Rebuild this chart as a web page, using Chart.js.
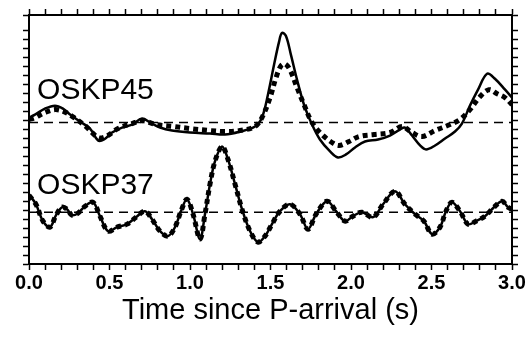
<!DOCTYPE html>
<html>
<head>
<meta charset="utf-8">
<script src="https://cdn.jsdelivr.net/npm/chart.js@4/dist/chart.umd.min.js"></script>
<style>
  html, body { margin: 0; padding: 0; background: #fff; }
  #wrap { width: 528px; height: 338px; }
</style>
</head>
<body>
<div id="wrap"><canvas id="c"></canvas></div>
<script>
// time axis (s) and amplitudes, relative to each trace's baseline
const stations = ['OSKP45', 'OSKP37']
const baselines = [14.2, 5.2]

const t45obs = [0, 0.037, 0.099, 0.161, 0.211, 0.255, 0.317, 0.379, 0.429, 0.466, 0.516, 0.578, 0.640, 0.702, 0.752, 0.814, 0.888, 1.000, 1.124, 1.217, 1.311, 1.404, 1.447, 1.484, 1.522, 1.553, 1.571, 1.596, 1.627, 1.665, 1.708, 1.758, 1.807, 1.870, 1.919, 1.969, 2.025, 2.087, 2.168, 2.242, 2.304, 2.335, 2.379, 2.429, 2.466, 2.522, 2.584, 2.646, 2.689, 2.739, 2.789, 2.845, 2.894, 2.957, 3.000]
const a45obs = [0.5, 0.8, 1.4, 1.7, 1.4, 0.8, 0.1, -0.6, -1.8, -1.7, -1.0, -0.5, -0.2, 0.4, 0, -0.5, -0.8, -1.0, -1.1, -1.2, -0.9, -0.4, 0.5, 2.8, 5.8, 8.1, 9.0, 8.7, 6.8, 4.3, 1.8, -0.2, -1.7, -2.9, -3.5, -3.2, -2.5, -1.9, -1.7, -1.3, -0.7, -0.5, -1.3, -2.3, -2.7, -2.3, -1.6, -0.9, -0.1, 1.7, 3.3, 4.9, 4.4, 3.3, 2.5]

const t45syn = [0, 0.037, 0.099, 0.161, 0.217, 0.280, 0.354, 0.429, 0.478, 0.553, 0.640, 0.702, 0.789, 0.901, 1.000, 1.124, 1.217, 1.311, 1.404, 1.447, 1.497, 1.534, 1.565, 1.590, 1.621, 1.665, 1.708, 1.758, 1.820, 1.882, 1.925, 1.988, 2.050, 2.143, 2.242, 2.317, 2.379, 2.441, 2.522, 2.615, 2.677, 2.739, 2.801, 2.857, 2.907, 2.957, 3.000]
const a45syn = [0.3, 0.5, 1.0, 1.3, 1.1, 0.5, -0.4, -1.5, -1.4, -0.6, -0.1, 0.2, -0.2, -0.4, -0.6, -0.8, -0.9, -0.8, -0.4, 0.5, 2.5, 4.5, 5.7, 5.9, 5.3, 3.5, 1.8, 0, -1.2, -2.0, -2.3, -1.9, -1.4, -1.2, -1.0, -0.4, -1.0, -1.4, -0.8, -0.2, 0.3, 1.3, 2.6, 3.3, 2.9, 2.5, 1.8]

const t37 = [0, 0.043, 0.087, 0.130, 0.168, 0.205, 0.236, 0.267, 0.304, 0.348, 0.398, 0.441, 0.491, 0.547, 0.609, 0.665, 0.720, 0.764, 0.814, 0.863, 0.907, 0.944, 0.981, 1.019, 1.062, 1.093, 1.124, 1.155, 1.199, 1.236, 1.280, 1.323, 1.373, 1.422, 1.466, 1.509, 1.559, 1.621, 1.683, 1.733, 1.783, 1.851, 1.907, 1.963, 2.012, 2.068, 2.137, 2.199, 2.273, 2.335, 2.398, 2.453, 2.503, 2.553, 2.590, 2.627, 2.677, 2.727, 2.776, 2.832, 2.888, 2.938, 2.975, 3.000]
const a37obs = [1.8, 0.8, -0.9, -1.5, -0.3, 0.5, 0.3, -0.3, -0.1, 0.6, 1.0, -0.4, -1.9, -1.5, -1.2, -0.5, 0.1, -0.7, -1.9, -2.4, -1.5, 0.1, 1.3, -0.2, -2.7, -0.2, 2.8, 5.1, 6.6, 5.3, 2.8, 0.3, -1.9, -3.0, -2.4, -1.2, 0.1, 0.8, -0.2, -1.7, -0.2, 1.1, 0.1, -0.9, -0.4, 0, -0.5, 0.8, 2.1, 0.8, -0.2, -0.9, -2.2, -1.5, 0.1, 1.0, 0.1, -1.2, -0.9, -0.4, 0.5, 1.1, 0.5, 0.3]
const a37syn = [1.7, 0.8, -0.9, -1.5, -0.3, 0.5, 0.3, -0.3, -0.1, 0.6, 1.0, -0.4, -1.9, -1.5, -1.2, -0.5, 0.1, -0.7, -1.9, -2.4, -1.5, 0.1, 1.3, -0.2, -2.7, -0.2, 2.8, 5.1, 6.6, 5.3, 2.8, 0.3, -1.9, -3.0, -2.4, -1.2, 0.1, 0.8, -0.2, -1.7, -0.2, 1.1, 0.1, -0.9, -0.4, 0, -0.5, 0.8, 2.1, 0.8, -0.2, -0.9, -2.2, -1.5, 0.1, 1.0, 0.1, -1.2, -0.9, -0.4, 0.5, 1.1, 0.5, 0.3]

const xMin = 0, xMax = 3.0

const trace = (ts, as, base) => ts.map((t, i) => ({ x: t, y: as[i] + base }))
const flat = base => [{ x: xMin, y: base }, { x: xMax, y: base }]

const solid = { borderColor: '#000', borderWidth: 2.5, pointRadius: 0, tension: 0.35, fill: false }
const dotted = { borderColor: '#000', borderWidth: 5, borderDash: [5, 4], pointRadius: 0, tension: 0.35, fill: false }
const dash = { borderColor: '#000', borderWidth: 1.5, borderDash: [9, 6], pointRadius: 0, tension: 0, fill: false }

const stationLabels = {
  id: 'stationLabels',
  afterDatasetsDraw(chart) {
    const { ctx, scales } = chart
    ctx.save()
    ctx.fillStyle = '#000'
    ctx.font = '30px "Liberation Sans", Arial, sans-serif'
    ctx.textBaseline = 'alphabetic'
    const x = scales.x.getPixelForValue(0.05)
    ctx.fillText(stations[0], x, scales.y.getPixelForValue(baselines[0] + 2.4))
    ctx.fillText(stations[1], x, scales.y.getPixelForValue(baselines[1] + 1.8))
    ctx.restore()
  }
}

const xTicks = {
  min: xMin, max: xMax,
  grid: { drawOnChartArea: false, tickLength: 6, tickColor: '#000', tickWidth: 1.5 },
  border: { display: true, color: '#000', width: 2 }
}

new Chart(document.getElementById('c'), {
  type: 'line',
  data: {
    datasets: [
      { ...dash, data: flat(baselines[0]), order: 5 },
      { ...dash, data: flat(baselines[1]), order: 5 },
      { ...solid, data: trace(t45obs, a45obs, baselines[0]), order: 3 },
      { ...dotted, data: trace(t45syn, a45syn, baselines[0]), order: 2 },
      { ...solid, data: trace(t37, a37obs, baselines[1]), order: 3 },
      { ...dotted, data: trace(t37, a37syn, baselines[1]), order: 2 }
    ]
  },
  options: {
    responsive: true,
    maintainAspectRatio: false,
    animation: false,
    layout: { padding: { bottom: 10 } },
    plugins: { legend: { display: false }, tooltip: { enabled: false } },
    scales: {
      x: {
        type: 'linear', position: 'bottom', ...xTicks,
        ticks: {
          stepSize: 0.1, autoSkip: false, maxRotation: 0, padding: 1, color: '#000',
          font: { family: '"Liberation Sans", Arial, sans-serif', size: 20, weight: 'bold' },
          callback: v => Math.abs(v * 2 - Math.round(v * 2)) < 1e-6 ? v.toFixed(1) : ''
        },
        title: {
          display: true, text: 'Time since P-arrival (s)', color: '#000', padding: { top: 0, bottom: 0 },
          font: { family: '"Liberation Sans", Arial, sans-serif', size: 29 }
        },
        afterFit: s => { s.height = 64 }
      },
      x2: {
        type: 'linear', position: 'top', ...xTicks,
        ticks: { stepSize: 0.1, display: false },
        afterFit: s => { s.height = 15 }
      },
      y: {
        type: 'linear', position: 'left', min: 0, max: 25,
        grid: { drawOnChartArea: false, tickLength: 6, tickColor: '#000', tickWidth: 1.5 },
        border: { display: true, color: '#000', width: 2 },
        ticks: { stepSize: 0.9, display: false },
        afterFit: s => { s.width = 29 }
      },
      y2: {
        type: 'linear', position: 'right', min: 0, max: 25,
        grid: { drawOnChartArea: false, tickLength: 6, tickColor: '#000', tickWidth: 1.5 },
        border: { display: true, color: '#000', width: 2 },
        ticks: { stepSize: 0.9, display: false },
        afterFit: s => { s.width = 16 }
      }
    }
  },
  plugins: [stationLabels]
})
</script>
</body>
</html>
